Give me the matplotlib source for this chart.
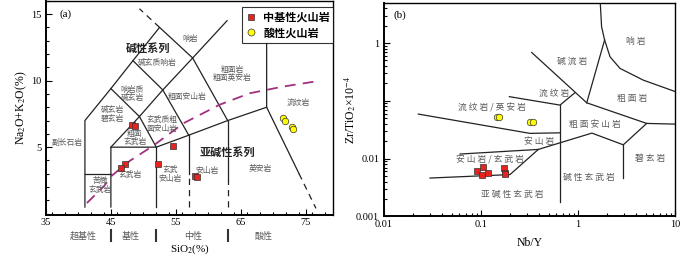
import matplotlib
matplotlib.use('Agg')
import matplotlib.pyplot as plt
import matplotlib.transforms as mtransforms
from matplotlib.lines import Line2D
from matplotlib.ticker import MultipleLocator, LogLocator, NullFormatter, FixedLocator, FixedFormatter

plt.rcParams['font.family'] = ['Liberation Serif', 'Noto Sans CJK SC']
plt.rcParams['mathtext.fontset'] = 'stix'
CJK = ['Noto Sans CJK SC', 'DejaVu Sans']

RED = '#e8231f'
YEL = '#ffff00'
LINE = '#222222'
GRAY = '#5a5a5a'

# ---------------- (a) TAS ----------------
mafic_sio2 = [48.2, 48.7, 54.5, 52.2, 47.2, 46.5, 58.0, 58.2]
mafic_alk = [6.7, 6.6, 5.1, 3.75, 3.7, 3.4, 2.85, 2.75]
felsic_sio2 = [71.5, 71.9, 72.9, 73.1]
felsic_alk = [7.2, 7.0, 6.5, 6.4]

tas_solid = [
    [(41, 0.5), (41, 7), (45, 9.4), (48.4, 11.5), (52.5, 14), (57.6, 11.7), (62.9, 14.5)],
    [(41, 3), (45, 3)],
    [(45, 0.5), (45, 5), (52, 5), (57, 5.9), (63, 7), (69, 8), (69, 12.8)],
    [(52, 0.5), (52, 5)],
    [(45, 5), (49.4, 7.3), (52, 5)],
    [(45, 9.4), (49.4, 7.3), (53, 9.3), (57, 5.9)],
    [(48.4, 11.5), (53, 9.3), (57.6, 11.7), (63, 7)],
    [(57, 3.0), (57, 5.9)],
    [(63, 2.5), (63, 7)],
    [(69, 8), (74, 3)],
]
tas_dashed = [
    [(52.5, 14), (49.4, 15.4)],
    [(57, 0.5), (57, 3.0)],
    [(63, 0.5), (63, 2.5)],
    [(74, 3), (76.6, 0.4)],
]

irvine_sio2 = [41.3, 44.0, 45.0, 48.0, 51.5, 56.2, 61.8, 66.4, 71.5, 76.7]
irvine_alk = [0.8, 2.1, 2.8, 4.0, 5.1, 6.8, 8.2, 9.05, 9.55, 9.95]

tas_names = ['响岩', '碱玄质响岩', '粗面岩\n粗面英安岩', '响岩质\n碱玄岩', '粗面安山岩',
             '碱玄岩\n碧玄岩', '流纹岩', '玄武质粗\n面安山岩', '粗面\n玄武岩', '副长石岩',
             '玄武岩', '苦橄\n玄武岩', '玄武\n安山岩', '安山岩', '英安岩']
tas_name_x = [57.2, 52.1, 63.7, 48.3, 56.7, 45.2, 73.8, 52.85, 48.7, 38.3, 48.0, 43.4, 54.1, 59.8, 68.0]
tas_name_y = [13.1, 11.3, 10.5, 9.0, 8.8, 7.45, 8.35, 6.7, 5.7, 5.28, 2.88, 2.1, 2.96, 3.2, 3.33]

series_names = ['碱性系列', '亚碱性系列']
series_x = [50.7, 62.9]
series_y = [12.4, 4.6]

class_names = ['超基性', '基性', '中性', '酸性']
class_x = [40.8, 48.0, 57.7, 68.5]
class_breaks = [45, 52, 63]

# ---------------- (b) Winchester & Floyd ----------------
wf_lines = [
    [(1.69, 5.5), (1.75, 1.91), (1.88, 1.13), (2.14, 0.577), (2.71, 0.364), (4.71, 0.228), (10, 0.145)],
    [(1.88, 1.13), (1.23, 0.0923)],
    [(0.333, 0.687), (1.23, 0.0923), (5.1, 0.0406), (10, 0.0395)],
    [(5.1, 0.0406), (2.93, 0.0173), (1.39, 0.0276), (0.39, 0.0144), (0.199, 0.00528), (0.0298, 0.0046)],
    [(2.93, 0.0173), (2.93, 0.0046)],
    [(0.652, 0.0843), (0.652, 0.00177)],
    [(0.196, 0.118), (0.652, 0.0843), (0.93, 0.138)],
    [(0.0226, 0.0589), (0.320, 0.0273), (0.652, 0.0279)],
    [(0.0608, 0.01197), (0.39, 0.0144)],
]

mafic_nby = [0.0904, 0.1016, 0.1056, 0.119, 0.1726, 0.1767, 0.178]
mafic_zrti = [0.0060, 0.00512, 0.00705, 0.00561, 0.00686, 0.0056, 0.0053]
felsic_nby = [0.145, 0.1546, 0.320, 0.341]
felsic_zrti = [0.0529, 0.0529, 0.0433, 0.0427]

wf_names = ['响岩', '碱流岩', '粗面岩', '流纹岩', '流纹岩/英安岩', '粗面安山岩', '安山岩',
            '安山岩/玄武岩', '碧玄岩', '碱性玄武岩', '亚碱性玄武岩']
wf_name_x = [3.9, 0.87, 3.6, 0.57, 0.13, 1.51, 0.394, 0.125, 5.54, 1.29, 0.21]
wf_name_y = [1.05, 0.49, 0.11, 0.134, 0.074, 0.0395, 0.0199, 0.00953, 0.0102, 0.0047, 0.00237]

fig = plt.figure(figsize=(7.0, 2.56), dpi=100)
ax1 = fig.add_axes([0.0657, 0.160, 0.4107, 0.837])
ax2 = fig.add_axes([0.5486, 0.155, 0.4157, 0.8345])


def style_axes(ax):
    for s in ax.spines.values():
        s.set_linewidth(1.0)
    ax.spines['left'].set_linewidth(1.4)
    ax.spines['bottom'].set_linewidth(1.4)
    ax.tick_params(which='both', direction='in', labelsize=7.5, top=False, right=False, width=0.8)
    ax.tick_params(which='major', length=4)
    ax.tick_params(which='minor', length=2.5)


# ---- panel a ----
for seg in tas_solid:
    xs, ys = zip(*seg)
    ax1.plot(xs, ys, color=LINE, lw=0.9)
for seg in tas_dashed:
    xs, ys = zip(*seg)
    ax1.plot(xs, ys, color=LINE, lw=0.9, dashes=(5, 4))
ax1.plot(irvine_sio2, irvine_alk, color='#a3307e', lw=1.3, dashes=(6, 4))

for name, x, y in zip(tas_names, tas_name_x, tas_name_y):
    ax1.text(x, y, name, family=CJK, fontsize=5.6, color=GRAY, ha='center', va='center',
             linespacing=1.1)
for name, x, y in zip(series_names, series_x, series_y):
    ax1.text(x, y, name, family=CJK, fontsize=8, fontweight='bold', color='#222222',
             ha='center', va='center')

ax1.scatter(mafic_sio2, mafic_alk, marker='s', s=20, c=RED, edgecolors='#333333', linewidths=0.5, zorder=5)
ax1.scatter(felsic_sio2, felsic_alk, marker='o', s=22, c=YEL, edgecolors='#333333', linewidths=0.5, zorder=5)

ax1.set_xlim(35, 79.3)
ax1.set_ylim(-0.1, 16)
ax1.xaxis.set_major_locator(FixedLocator([35, 45, 55, 65, 75]))
ax1.xaxis.set_minor_locator(MultipleLocator(2))
ax1.yaxis.set_major_locator(FixedLocator([5, 10, 15]))
ax1.yaxis.set_minor_locator(MultipleLocator(1))
style_axes(ax1)
ax1.tick_params(axis='x', pad=2)

trans = mtransforms.blended_transform_factory(ax1.transData, ax1.transAxes)
for name, x in zip(class_names, class_x):
    ax1.text(x, -0.098, name, transform=trans, family=CJK, fontsize=6.5, color=GRAY,
             ha='center', va='center')
for x in class_breaks:
    ax1.plot([x, x], [-0.068, -0.122], transform=trans, color='#333333', lw=1.5, clip_on=False)

ax1.set_xlabel('SiO$_2$(%)', fontsize=8)
ax1.xaxis.set_label_coords(0.5, -0.13)
ax1.set_ylabel('Na$_2$O+K$_2$O(%)', fontsize=8.5)
ax1.yaxis.set_label_coords(-0.058, 0.5)
ax1.text(38.0, 15.0, '(a)', fontsize=8, ha='center', va='center')

handles = [
    Line2D([], [], marker='s', ls='none', ms=4.5, mfc=RED, mec='#333333', mew=0.5),
    Line2D([], [], marker='o', ls='none', ms=5, mfc=YEL, mec='#333333', mew=0.5),
]
leg = ax1.legend(handles, ['中基性火山岩', '酸性火山岩'], loc='upper right',
                 bbox_to_anchor=(1.0, 0.97), borderaxespad=0, fancybox=False,
                 prop={'family': CJK, 'size': 8, 'weight': 'bold'},
                 handletextpad=0.6, handlelength=1.0, borderpad=0.3, labelspacing=0.25)
leg.get_frame().set_edgecolor('black')
leg.get_frame().set_linewidth(0.8)

# ---- panel b ----
for seg in wf_lines:
    xs, ys = zip(*seg)
    ax2.plot(xs, ys, color=LINE, lw=0.9)
for name, x, y in zip(wf_names, wf_name_x, wf_name_y):
    ax2.text(x, y, ' '.join(name), family=CJK, fontsize=6.3, color=GRAY, ha='center', va='center')

ax2.scatter(mafic_nby, mafic_zrti, marker='s', s=20, c=RED, edgecolors='#333333', linewidths=0.5, zorder=5)
ax2.scatter(felsic_nby, felsic_zrti, marker='o', s=22, c=YEL, edgecolors='#333333', linewidths=0.5, zorder=5)

ax2.set_xscale('log')
ax2.set_yscale('log')
ax2.set_xlim(0.01, 10)
ax2.set_ylim(0.001, 5)
ax2.xaxis.set_major_locator(FixedLocator([0.01, 0.1, 1, 10]))
ax2.xaxis.set_major_formatter(FixedFormatter(['0.01', '0.1', '1', '10']))
ax2.xaxis.set_minor_locator(LogLocator(base=10, subs=range(2, 10)))
ax2.xaxis.set_minor_formatter(NullFormatter())
ax2.yaxis.set_major_locator(FixedLocator([0.001, 0.01, 0.1, 1]))
ax2.yaxis.set_major_formatter(FixedFormatter(['0.001', '0.01', '', '1']))
ax2.yaxis.set_minor_locator(LogLocator(base=10, subs=range(2, 10)))
ax2.yaxis.set_minor_formatter(NullFormatter())
style_axes(ax2)
ax2.tick_params(axis='x', pad=3)

ax2.set_xlabel('Nb/Y', fontsize=8.5)
ax2.xaxis.set_label_coords(0.5, -0.097)
ax2.set_ylabel('Zr/TiO$_2$×10$^{-4}$', fontsize=8.5)
ax2.yaxis.set_label_coords(-0.089, 0.5)
ax2.text(0.0146, 3.0, '(b)', fontsize=8, ha='center', va='center')

fig.savefig('out.png', dpi=100)
